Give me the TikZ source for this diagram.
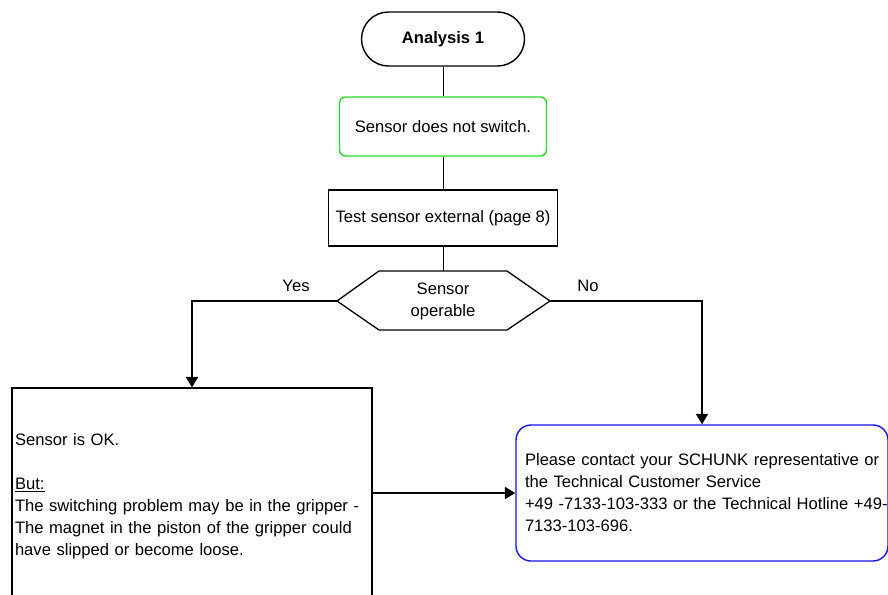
\documentclass[tikz,border=0pt]{standalone}
\usepackage{fontspec}
\setmainfont{Liberation Sans}
\usetikzlibrary{arrows.meta,calc}
\definecolor{boxgreen}{RGB}{40,220,40}
\definecolor{boxblue}{RGB}{20,20,235}
\begin{document}
\begin{tikzpicture}[x=1pt,y=-1pt,
  every node/.style={font=\fontsize{16.6}{22}\selectfont},
  thinline/.style={line width=1pt},
  conn/.style={line width=2pt,-{Triangle[length=10.5pt,width=12pt]}},
  termbox/.style={draw,line width=1.4pt,rounded corners=27pt,minimum width=163pt,minimum height=54pt,inner sep=0pt},
  greenbox/.style={draw=boxgreen,line width=1.4pt,rounded corners=6pt,minimum width=207pt,minimum height=59pt,inner sep=0pt},
  testbox/.style={draw,line width=1.2pt,minimum width=229pt,minimum height=56pt,inner sep=0pt},
  leftbox/.style={draw,line width=1.1pt,text width=354pt,inner xsep=3pt,inner ysep=0pt,minimum height=216pt,align=left},
  bluebox/.style={draw=boxblue,line width=1.4pt,rounded corners=15pt,text width=354pt,inner xsep=9pt,inner ysep=0pt,minimum height=136pt,align=left},
  lbl/.style={inner sep=0pt}
]
\clip (0,0) rectangle (888,594);

\node[termbox] (term) at (443,39) {\textbf{Analysis 1}};
\node[greenbox] (green) at (443,126.5) {Sensor does not switch.};
\node[testbox] (test) at (443,218) {Test sensor external (page 8)};
\node[lbl,align=center] (hex) at (443,301) {Sensor\\operable};
\draw[line width=1.3pt] (337,301) -- (379,271) -- (507,271) -- (550,301) -- (507,330) -- (379,330) -- cycle;
\coordinate (hL) at (337,301);
\coordinate (hR) at (550,301);
\coordinate (hT) at (443,271);

\node[leftbox] (left) at (192,496) {Sensor is OK.\\[22pt]\underline{But:}\\The switching problem may be in the gripper -\\The magnet in the piston of the gripper could\\have slipped or become loose.};
\node[bluebox] (blue) at (702,493) {\mbox{Please contact your SCHUNK representative or}\\\mbox{the Technical Customer Service}\\\mbox{+49 -7133-103-333 or the Technical Hotline +49-}\\\mbox{7133-103-696.}};

\node[lbl] (yes) at (296,286) {Yes};
\node[lbl] (no) at (588,286) {No};

\draw[thinline] (term.south) -- (green.north);
\draw[thinline] (green.south) -- (test.north);
\draw[thinline] (test.south) -- (hT);
\draw[conn] (hL) -| (left.north);
\draw[conn] (hR) -| (blue.north);
\draw[conn] (left.east |- blue.west) -- (blue.west);
\end{tikzpicture}
\end{document}
